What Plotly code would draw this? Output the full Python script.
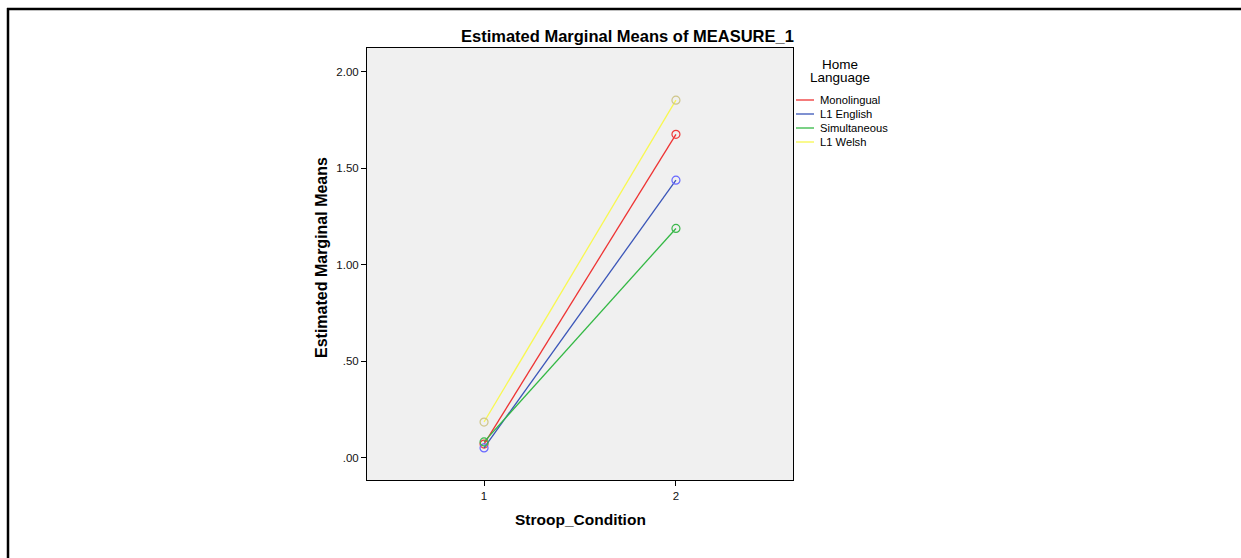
import plotly.graph_objects as go

# ---- data ----
conditions = [1, 2]
series_names = ["Monolingual", "L1 English", "Simultaneous", "L1 Welsh"]
series_values = {
    "Monolingual": [0.072, 1.675],
    "L1 English": [0.052, 1.438],
    "Simultaneous": [0.083, 1.188],
    "L1 Welsh": [0.186, 1.852],
}
y_tickvals = [0.0, 0.5, 1.0, 1.5, 2.0]
y_ticktext = [".00", ".50", "1.00", "1.50", "2.00"]
x_tickvals = [1, 2]
x_ticktext = ["1", "2"]
legend_title_lines = ["Home", "Language"]

# ---- styles ----
line_colors = {
    "Monolingual": "#ee3333",
    "L1 English": "#3a55b8",
    "Simultaneous": "#33b844",
    "L1 Welsh": "#f8f850",
}
marker_colors = {
    "Monolingual": "#ee3a3a",
    "L1 English": "#6868ff",
    "Simultaneous": "#3cb84c",
    "L1 Welsh": "#cfc68a",
}
FONT = "Arial, Liberation Sans, sans-serif"

W, H = 1241, 558
L, R, T, B = 367, 793, 48, 480  # plot area in pixels


def px(x):
    return (x - L) / (R - L)


def py(y):
    return (B - y) / (B - T)


fig = go.Figure()
for name in series_names:
    fig.add_trace(go.Scatter(
        x=conditions, y=series_values[name], mode="lines+markers", name=name,
        line=dict(color=line_colors[name], width=1.3),
        marker=dict(symbol="circle-open", size=8, color=marker_colors[name],
                    line=dict(width=1.2, color=marker_colors[name])),
        showlegend=False,
    ))

shapes = []
annotations = []

# outer frame lines (top and left)
shapes.append(dict(type="line", xref="paper", yref="paper",
                   x0=px(7), x1=px(1241), y0=py(9), y1=py(9),
                   line=dict(color="black", width=2.5)))
shapes.append(dict(type="line", xref="paper", yref="paper",
                   x0=px(8), x1=px(8), y0=py(8), y1=py(560),
                   line=dict(color="black", width=2.5)))

# title
annotations.append(dict(text="<b>Estimated Marginal Means of MEASURE_1</b>",
                        xref="paper", yref="paper", x=px(627), y=py(36),
                        showarrow=False, xanchor="center", yanchor="middle",
                        font=dict(family=FONT, size=16.5, color="black")))
# y axis title
annotations.append(dict(text="<b>Estimated Marginal Means</b>",
                        xref="paper", yref="paper", x=px(321), y=py(258),
                        showarrow=False, textangle=-90, xanchor="center", yanchor="middle",
                        font=dict(family=FONT, size=16, color="black")))
# x axis title
annotations.append(dict(text="<b>Stroop_Condition</b>",
                        xref="paper", yref="paper", x=px(580), y=py(519),
                        showarrow=False, xanchor="center", yanchor="middle",
                        font=dict(family=FONT, size=15.5, color="black")))

# legend (manual)
for j, t in enumerate(legend_title_lines):
    annotations.append(dict(text=t, xref="paper", yref="paper",
                            x=px(840), y=py(64 + 14 * j), showarrow=False,
                            xanchor="center", yanchor="middle",
                            font=dict(family=FONT, size=13.5, color="black")))
for i, name in enumerate(series_names):
    yy = 100 + 14 * i
    shapes.append(dict(type="line", xref="paper", yref="paper",
                       x0=px(796), x1=px(814), y0=py(yy), y1=py(yy),
                       line=dict(color=line_colors[name], width=1.3)))
    annotations.append(dict(text=name, xref="paper", yref="paper",
                            x=px(818), y=py(yy), showarrow=False,
                            xanchor="left", yanchor="middle",
                            font=dict(family=FONT, size=11.2, color="black")))

fig.update_layout(
    width=W, height=H,
    margin=dict(l=L, r=W - R, t=T, b=H - B, pad=0),
    paper_bgcolor="white", plot_bgcolor="#f0f0f0",
    font=dict(family=FONT, size=11, color="#111111"),
    shapes=shapes, annotations=annotations, showlegend=False,
)
fig.update_xaxes(range=[0.39, 2.61], tickvals=x_tickvals, ticktext=x_ticktext,
                 showgrid=False, zeroline=False, showline=True, linecolor="black",
                 linewidth=1, mirror=True, ticks="outside", ticklen=5,
                 tickcolor="black", tickfont=dict(family=FONT, size=11.5, color="#111111"))
fig.update_yaxes(range=[-0.114, 2.122], tickvals=y_tickvals, ticktext=y_ticktext,
                 showgrid=False, zeroline=False, showline=True, linecolor="black",
                 linewidth=1, mirror=True, ticks="outside", ticklen=5,
                 tickcolor="black", tickfont=dict(family=FONT, size=11.5, color="#111111"))

fig.write_html("out.html", config={"displayModeBar": False},
               post_script="document.body.style.margin='0';document.body.style.overflow='hidden';")
